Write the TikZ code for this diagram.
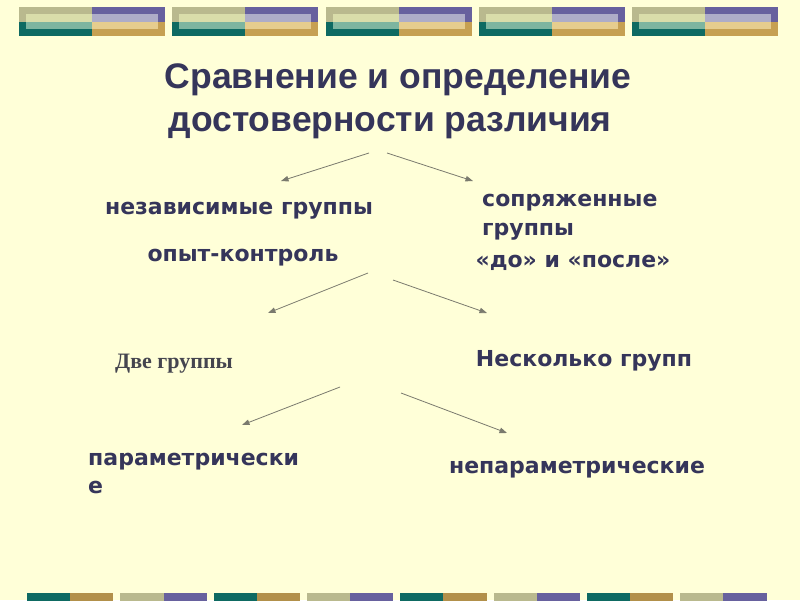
\documentclass[tikz,border=0pt]{standalone}
\usepackage{fontspec}
\setmainfont{DejaVu Sans}
\newfontfamily\titlefont{Liberation Sans}
\newfontfamily\oldfont{Liberation Serif}
\usetikzlibrary{arrows.meta}

\definecolor{slidebg}{HTML}{FFFFD8}
\definecolor{ink}{HTML}{35355A}
\definecolor{greyink}{HTML}{45454F}
\definecolor{arrowgrey}{HTML}{7A7A6E}
\definecolor{khaki}{HTML}{B9B98E}
\definecolor{palegreen}{HTML}{D9DDAA}
\definecolor{lightteal}{HTML}{7DB5A0}
\definecolor{darkteal}{HTML}{0E6A62}
\definecolor{purple}{HTML}{67619E}
\definecolor{lavender}{HTML}{AEADC8}
\definecolor{lightgold}{HTML}{E6CD8E}
\definecolor{gold}{HTML}{C6A052}

\tikzset{
  title/.style={font=\titlefont\bfseries\fontsize{35.5}{40}\selectfont, text=ink, anchor=base, inner sep=0pt},
  lbl/.style={font=\bfseries\fontsize{22}{29}\selectfont, text=ink, anchor=base, inner sep=0pt},
  branch/.style={draw=arrowgrey, line width=0.8pt, -{Triangle[length=7.5pt,width=5.5pt]}},
}

\begin{document}
\begin{tikzpicture}[x=1pt, y=-1pt]
        % background
        \fill[slidebg] (0, 0) rectangle (800, 600);
        \useasboundingbox (0, 0) rectangle (800, 600);
        % top bars
        \foreach \i in {0,...,4} {
          \pgfmathsetmacro{\xa}{19 + \i*153.3}
          \fill[khaki] (\xa, 7) rectangle ++(73, 14.5);
          \fill[darkteal] (\xa, 21.5) rectangle ++(73, 14.5);
          \fill[palegreen] (\xa+7, 14) rectangle ++(66, 7.5);
          \fill[lightteal] (\xa+7, 21.5) rectangle ++(66, 7.5);
          \fill[purple] (\xa+73, 7) rectangle ++(73, 14.5);
          \fill[gold] (\xa+73, 21.5) rectangle ++(73, 14.5);
          \fill[lavender] (\xa+73, 14) rectangle ++(66, 7.5);
          \fill[lightgold] (\xa+73, 21.5) rectangle ++(66, 7.5);
        }
        % bottom bars
        \foreach \k in {0,...,7} {
          \pgfmathsetmacro{\xb}{27 + \k*93.3}
          \ifodd\k
            \fill[khaki] (\xb, 593) rectangle ++(43.2, 8);
            \fill[purple] (\xb+43.2, 593) rectangle ++(43.2, 8);
          \else
            \fill[darkteal] (\xb, 593) rectangle ++(43.2, 8);
            \fill[gold!90!black] (\xb+43.2, 593) rectangle ++(43.2, 8);
          \fi
        }
        % title
        \node[title] (head1) at (398, 88) {Сравнение и определение};
        \node[title] (head2) at (390, 131) {достоверности различия};
        % groups
        \node[lbl] (indep) at (239, 214) {независимые группы};
        \node[lbl] (control) at (243, 261) {опыт-контроль};
        \node[lbl, align=left, anchor=base west] (paired) at (482, 235) {сопряженные\\группы};
        \node[lbl] (beforeafter) at (573, 267) {«до» и «после»};
        \node[font=\oldfont\bfseries\fontsize{22}{26}\selectfont, text=greyink, anchor=base, inner sep=0pt] (two) at (174, 368) {Две группы};
        \node[lbl] (several) at (584, 366) {Несколько групп};
        \node[lbl, align=left, anchor=base west, font=\bfseries\fontsize{22}{28}\selectfont] (param) at (88, 493) {параметрически\\е};
        \node[lbl] (nonparam) at (577, 473) {непараметрические};
        % arrow ends
        \coordinate (s1) at (369, 153);
        \coordinate (s2) at (387, 153);
        \coordinate (e1) at (281, 181);
        \coordinate (e2) at (473, 181);
        \coordinate (s3) at (368, 273);
        \coordinate (s4) at (393, 280);
        \coordinate (e3) at (268, 313);
        \coordinate (e4) at (487, 313);
        \coordinate (s5) at (340, 387);
        \coordinate (s6) at (401, 393);
        \coordinate (e5) at (242, 425);
        \coordinate (e6) at (507, 433);
        % arrows
        \draw[branch] (s1) -- (e1);
        \draw[branch] (s2) -- (e2);
        \draw[branch] (s3) -- (e3);
        \draw[branch] (s4) -- (e4);
        \draw[branch] (s5) -- (e5);
        \draw[branch] (s6) -- (e6);
\end{tikzpicture}
\end{document}
